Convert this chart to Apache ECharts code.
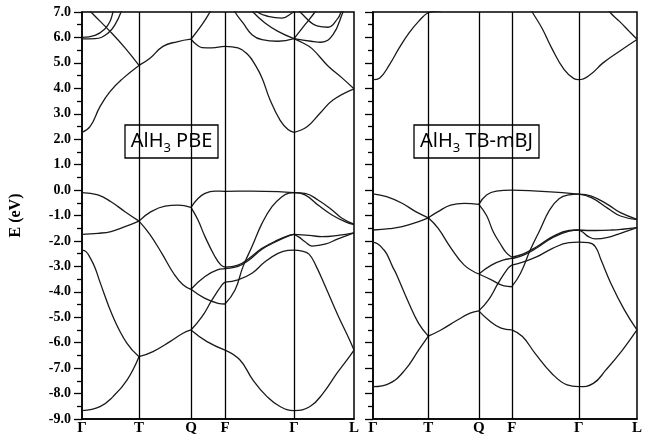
<!DOCTYPE html>
<html>
<head>
<meta charset="utf-8">
<script src="https://cdn.jsdelivr.net/npm/echarts@6/dist/echarts.min.js"></script>
<style>
  html, body { margin: 0; padding: 0; background: #fff; }
  #chart { width: 645px; height: 438px; }
</style>
</head>
<body>
<div id="chart"></div>
<script>
// k-path (distance along path) and symmetry point labels
var kTicks = [0, 57, 109, 143, 212, 272];
var kLabels = ['Γ', 'T', 'Q', 'F', 'Γ', 'L'];

// AlH3 PBE bands, each curve = [[k, E], ...]
var pbeValence = [
  [[0,-0.10],[16,-0.19],[29,-0.46],[43,-0.85],[57,-1.22]],
  [[0,-1.74],[16,-1.70],[29,-1.63],[43,-1.44],[57,-1.22]],
  [[57,-1.22],[69,-0.85],[83,-0.63],[96,-0.59],[109,-0.68]],
  [[57,-1.22],[68,-1.75],[80,-2.5],[92,-3.3],[101,-3.72],[109,-3.90]],
  [[0,-2.36],[4,-2.42],[8,-2.65],[13,-3.05],[18,-3.62],[31,-4.98],[45,-6.03],[57,-6.55]],
  [[0,-8.67],[18,-8.51],[31,-8.12],[45,-7.47],[57,-6.55]],
  [[57,-6.55],[71,-6.35],[88,-5.96],[101,-5.63],[109,-5.50]],
  [[109,-0.68],[116,-0.33],[123,-0.13],[133,-0.04],[143,-0.05],[170,-0.04],[196,-0.06],[212,-0.10]],
  [[109,-0.68],[116,-1.18],[123,-1.83],[133,-2.62],[139,-2.95],[143,-3.03]],
  [[143,-3.03],[156,-2.95],[166,-2.72],[180,-2.29],[196,-1.96],[208,-1.77],[212,-1.74]],
  [[109,-3.90],[123,-3.40],[136,-3.13],[143,-3.09],[156,-3.0],[166,-2.78],[180,-2.33],[196,-1.99],[208,-1.78],[212,-1.74]],
  [[109,-3.90],[123,-4.26],[136,-4.45],[143,-4.48]],
  [[143,-4.48],[153,-3.93],[161,-3.01],[170,-2.22],[180,-1.31],[190,-0.65],[200,-0.26],[207,-0.12],[212,-0.10]],
  [[109,-5.50],[120,-4.98],[130,-4.32],[140,-3.73],[143,-3.62]],
  [[143,-3.62],[156,-3.53],[170,-3.27],[183,-2.82],[196,-2.49],[206,-2.37],[212,-2.36],[220,-2.40],[227,-2.52],[234,-2.98],[244,-3.85],[256,-4.93],[266,-5.76],[272,-6.29]],
  [[109,-5.50],[125,-5.96],[143,-6.29]],
  [[143,-6.29],[158,-6.68],[171,-7.47],[185,-8.12],[198,-8.51],[212,-8.67],[228,-8.51],[241,-7.99],[255,-7.2],[265,-6.68],[272,-6.29]],
  [[212,-0.10],[223,-0.13],[236,-0.39],[250,-0.78],[260,-1.11],[272,-1.34]],
  [[212,-0.10],[223,-0.19],[236,-0.59],[250,-0.98],[263,-1.24],[272,-1.36]],
  [[212,-1.74],[227,-1.78],[240,-1.83],[256,-1.78],[272,-1.68]],
  [[212,-1.74],[217,-1.85],[223,-2.03],[230,-2.20],[243,-2.13],[256,-1.92],[272,-1.68]]
];
var pbeConduction = [
  [[0,2.27],[8,2.49],[18,3.28],[28,3.87],[41,4.39],[57,4.90]],
  [[57,4.90],[68,5.18],[81,5.65],[95,5.83],[109,5.93]],
  [[0,7.4],[9,7.0],[28,6.24],[43,5.59],[57,4.90]],
  [[0,6.0],[13,6.08],[23,6.34],[28,6.63],[31,7.0],[33,7.3]],
  [[0,5.94],[13,5.95],[26,6.17],[34,6.57],[39,7.0],[41,7.3]],
  [[109,5.93],[120,6.5],[128,7.0],[132,7.3]],
  [[109,5.93],[115,5.70],[120,5.60],[130,5.59],[143,5.65],[156,5.59],[166,5.32],[173,4.93],[180,4.41],[188,3.55],[198,2.75],[206,2.38],[212,2.27]],
  [[212,2.27],[225,2.49],[238,3.02],[251,3.54],[272,3.98]],
  [[212,5.95],[220,5.80],[230,5.56],[246,4.88],[260,4.41],[272,3.98]],
  [[150,7.3],[153,7.0],[161,6.57],[170,6.11],[180,5.91],[196,5.85],[212,5.95]],
  [[166,7.3],[171,7.0],[183,6.57],[196,6.24],[212,5.95]],
  [[171,7.2],[175,7.0],[186,6.83],[200,6.76],[210,6.96],[214,7.1]],
  [[212,5.95],[223,6.5],[233,7.0],[236,7.2]],
  [[214,7.2],[218,7.0],[236,6.44],[246,6.4],[256,6.76],[259,7.0],[261,7.2]],
  [[212,5.95],[229,5.85],[239,5.81],[251,6.11],[261,7.0],[263,7.2]]
];

// AlH3 TB-mBJ bands
var mbjValence = [
  [[0,-0.15],[14,-0.26],[30,-0.52],[44,-0.85],[57,-1.09]],
  [[0,-1.57],[17,-1.52],[30,-1.44],[44,-1.28],[57,-1.09]],
  [[57,-1.09],[67,-0.85],[80,-0.59],[94,-0.52],[109,-0.56]],
  [[57,-1.09],[67,-1.5],[80,-2.26],[94,-2.95],[109,-3.30]],
  [[0,-2.05],[5,-2.12],[10,-2.3],[14,-2.5],[20,-3.0],[24,-3.3],[37,-4.45],[47,-5.24],[57,-5.74]],
  [[0,-7.73],[17,-7.60],[33,-7.07],[47,-6.29],[57,-5.74]],
  [[57,-5.74],[70,-5.50],[87,-5.11],[100,-4.84],[109,-4.75]],
  [[109,-0.56],[117,-0.19],[127,-0.04],[143,0.0],[169,-0.04],[195,-0.10],[212,-0.16]],
  [[109,-0.56],[117,-1.0],[124,-1.65],[131,-2.1],[137,-2.45],[143,-2.64]],
  [[143,-2.64],[155,-2.51],[169,-2.22],[185,-1.83],[202,-1.59],[212,-1.57]],
  [[109,-3.30],[122,-2.95],[135,-2.74],[143,-2.69],[155,-2.56],[169,-2.27],[185,-1.87],[202,-1.61],[212,-1.57]],
  [[109,-3.30],[122,-3.53],[135,-3.77],[143,-3.80]],
  [[143,-3.80],[152,-3.27],[162,-2.36],[172,-1.57],[182,-0.78],[192,-0.33],[202,-0.19],[212,-0.16]],
  [[109,-4.75],[119,-4.32],[129,-3.66],[139,-3.08],[143,-2.95]],
  [[143,-2.95],[155,-2.82],[169,-2.62],[185,-2.29],[202,-2.07],[212,-2.05],[222,-2.07],[229,-2.22],[235,-2.75],[245,-3.66],[259,-4.71],[272,-5.50]],
  [[109,-4.75],[119,-5.11],[132,-5.43],[143,-5.50]],
  [[143,-5.50],[154,-5.76],[167,-6.42],[184,-7.20],[200,-7.66],[212,-7.73],[227,-7.60],[240,-7.07],[257,-6.29],[272,-5.50]],
  [[212,-0.16],[225,-0.24],[242,-0.57],[255,-0.89],[272,-1.15]],
  [[212,-0.16],[225,-0.30],[242,-0.72],[255,-1.02],[272,-1.16]],
  [[212,-1.57],[229,-1.59],[246,-1.57],[259,-1.53],[272,-1.48]],
  [[212,-1.57],[216,-1.65],[222,-1.83],[229,-1.92],[242,-1.86],[255,-1.70],[272,-1.48]]
];
var mbjConduction = [
  [[0,4.34],[7,4.41],[17,4.93],[27,5.59],[37,6.17],[47,6.63],[57,6.97],[70,7.05]],
  [[158,7.4],[164,7.0],[174,6.37],[184,5.59],[197,4.73],[207,4.38],[212,4.34],[224,4.54],[237,5.0],[254,5.46],[272,5.92]],
  [[240,7.3],[244,7.0],[254,6.63],[264,6.24],[272,5.93]]
];

var symLines = [57, 109, 143, 212];

var chart = echarts.init(document.getElementById('chart'));

var serif = 'Liberation Serif, Times New Roman, serif';

function xAxisFor(i) {
  return {
    gridIndex: i, type: 'value', min: 0, max: 272,
    axisLine: { show: true, onZero: false, lineStyle: { color: '#000', width: 1.5 } },
    axisTick: { show: false },
    splitLine: { show: false },
    axisLabel: {
      customValues: kTicks,
      formatter: function (v) { return kLabels[kTicks.indexOf(v)]; },
      fontFamily: serif, fontWeight: 'bold', fontSize: 15, color: '#000', margin: 2
    }
  };
}
function yAxisFor(i, labels) {
  return {
    gridIndex: i, type: 'value', min: -9, max: 7, interval: 1,
    name: labels ? 'E (eV)' : '',
    nameLocation: 'middle', nameGap: 58, nameRotate: 90,
    nameTextStyle: { fontFamily: serif, fontWeight: 'bold', fontSize: 16, color: '#000' },
    axisLine: { show: true, onZero: false, lineStyle: { color: '#000', width: 1.5 } },
    axisTick: { show: true, length: 8, lineStyle: { color: '#000', width: 1.3 } },
    minorTick: { show: true, splitNumber: 2, length: 5, lineStyle: { color: '#000', width: 1.3 } },
    splitLine: { show: false },
    axisLabel: {
      show: labels,
      formatter: function (v) { return v.toFixed(1); },
      fontFamily: serif, fontWeight: 'bold', fontSize: 14, color: '#000', margin: 11
    }
  };
}

var series = [];
function addBands(curves, idx, withLines) {
  curves.forEach(function (c, j) {
    var s = {
      type: 'line', xAxisIndex: idx, yAxisIndex: idx,
      data: c, showSymbol: false, smooth: 0.45,
      lineStyle: { color: '#1a1a1a', width: 1.3 },
      silent: true, animation: false
    };
    if (j === 0 && withLines) {
      s.markLine = {
        silent: true, symbol: ['none', 'none'], animation: false,
        label: { show: false },
        lineStyle: { color: '#000', type: 'solid', width: 1.3 },
        data: symLines.map(function (k) { return { xAxis: k }; })
      };
    }
    series.push(s);
  });
}
addBands(pbeValence, 0, true);
addBands(pbeConduction, 0, false);
addBands(mbjValence, 1, true);
addBands(mbjConduction, 1, false);

function labelBox(x, y, w, h, rest) {
  return {
    type: 'group', x: x, y: y,
    children: [
      { type: 'rect', shape: { x: 0, y: 0, width: w, height: h },
        style: { fill: '#fff', stroke: '#000', lineWidth: 1.3 } },
      { type: 'text', x: w / 2, y: h / 2,
        style: {
          text: '{n|AlH}{s|3}{n| ' + rest + '}',
          align: 'center', verticalAlign: 'middle',
          rich: {
            n: { fontFamily: 'Noto Sans', fontSize: 20, lineHeight: 26, verticalAlign: 'middle', fill: '#000' },
            s: { fontFamily: 'Noto Sans', fontSize: 13, lineHeight: 13, verticalAlign: 'bottom', fill: '#000' }
          }
        } }
    ]
  };
}

chart.setOption({
  animation: false,
  backgroundColor: '#fff',
  grid: [
    { left: 82, top: 12, width: 272, height: 407, show: true, borderColor: '#000', borderWidth: 1.5 },
    { left: 373, top: 12, width: 271, height: 407, show: true, borderColor: '#000', borderWidth: 1.5 }
  ],
  xAxis: [xAxisFor(0), xAxisFor(1)],
  yAxis: [yAxisFor(0, true), yAxisFor(1, false)],
  series: series,
  graphic: [
    labelBox(125, 125, 93, 33, 'PBE'),
    labelBox(414, 125, 125, 33, 'TB-mBJ')
  ]
});
</script>
</body>
</html>
